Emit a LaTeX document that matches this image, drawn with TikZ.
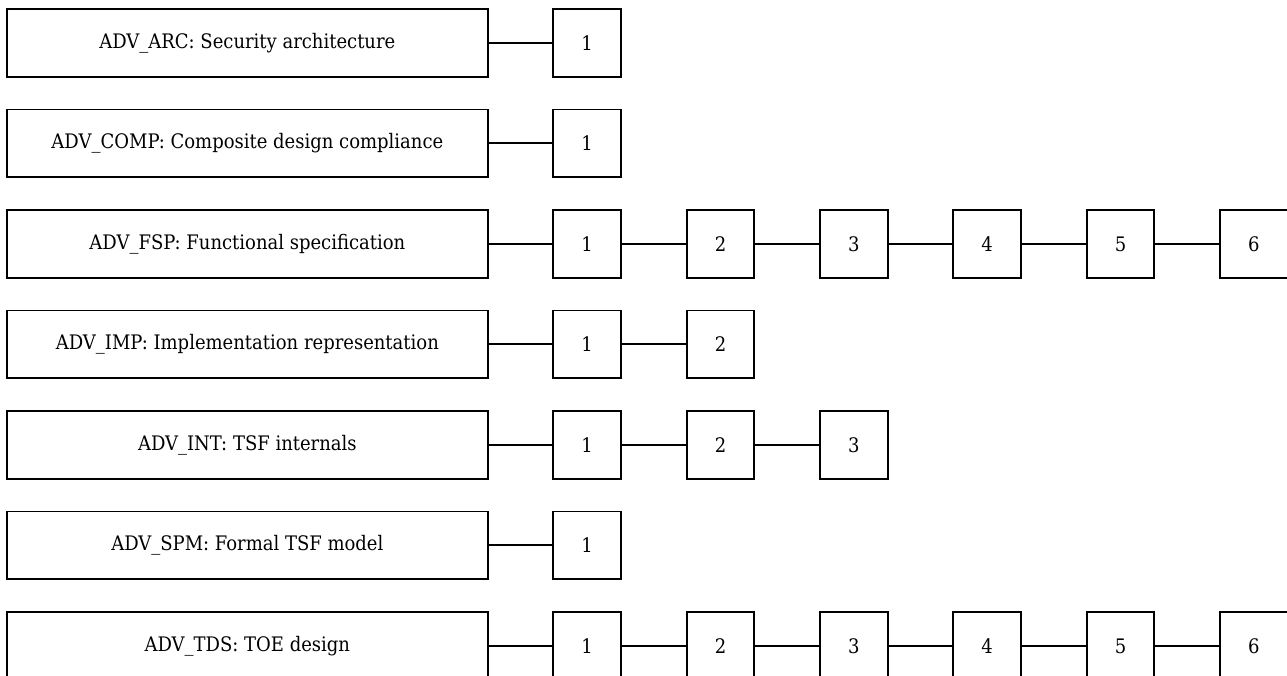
\documentclass[tikz,border=0pt]{standalone}
\usepackage{fontspec}
\setmainfont{DejaVu Serif Condensed}
\begin{document}
\begin{tikzpicture}[x=1pt,y=-1pt,
  lbl/.style={draw, line width=1.8pt, minimum width=480.7pt, minimum height=67.7pt, inner sep=0pt, font=\fontsize{20}{24}\selectfont},
  num/.style={draw, line width=1.8pt, minimum width=67.7pt, minimum height=67.7pt, inner sep=0pt, font=\fontsize{20}{24}\selectfont},
  link/.style={line width=1.8pt}]
\useasboundingbox (0,0) rectangle (1287,675);
\foreach \r/\t/\n in {1/{ADV\_ARC: Security architecture}/1,
                      2/{ADV\_COMP: Composite design compliance}/1,
                      3/{ADV\_FSP: Functional specification}/6,
                      4/{ADV\_IMP: Implementation representation}/2,
                      5/{ADV\_INT: TSF internals}/3,
                      6/{ADV\_SPM: Formal TSF model}/1,
                      7/{ADV\_TDS: TOE design}/6}{
  \pgfmathsetmacro{\yy}{42.85+(\r-1)*100.5}
  \node[lbl] (L\r) at (247.35,\yy) {\t};
  \foreach \i in {1,...,\n}{
    \pgfmathsetmacro{\xx}{587.15+(\i-1)*133.33}
    \node[num] (N\r-\i) at (\xx,\yy) {\i};
  }
  \draw[link] (L\r.east) -- (N\r-1.west);
  \ifnum\n>1
    \foreach \i [evaluate=\i as \j using int(\i-1)] in {2,...,\n}{
      \draw[link] (N\r-\j.east) -- (N\r-\i.west);
    }
  \fi
}
\end{tikzpicture}
\end{document}
